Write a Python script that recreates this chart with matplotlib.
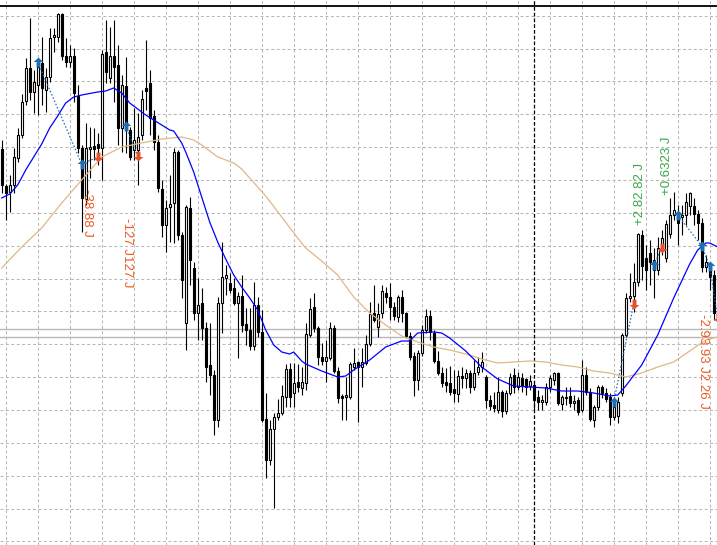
import matplotlib
matplotlib.use("Agg")
import matplotlib.pyplot as plt
import numpy as np
from matplotlib.path import Path

# ---------------- data (price points) ----------------
opens = [396,359,353,360,387,410,444,477,453,460,
         482,455,468,508,508,531,489,483,489,449,
         397,346,396,399,401,397,493,467,489,480,
         417,459,415,395,395,410,457,462,429,403,
         356,320,338,342,393,310,222,337,277,232,
         242,217,180,170,125,242,267,262,257,242,
         249,221,215,199,240,213,126,85,116,128,
         132,148,176,152,163,157,162,210,238,217,
         188,184,187,217,174,149,148,148,178,183,
         178,182,201,232,218,232,252,248,238,228,
         248,232,209,189,165,192,215,229,212,184,
         172,163,162,156,151,169,167,172,158,173,
         178,168,145,140,135,153,134,152,170,158,
         167,166,159,160,148,143,143,158,165,172,
         141,147,149,142,145,135,170,153,125,138,
         158,152,148,128,129,152,210,247,249,263,
         310,287,292,275,275,295,287,311,330,332,
         328,330,339,339,331,322,278,278,270,232]
highs = [405,361,370,397,417,451,487,527,475,487,
         508,477,517,517,532,532,507,500,497,460,
         400,422,418,417,412,495,525,518,525,500,
         470,488,418,437,432,455,505,475,435,410,
         365,345,370,397,395,313,340,348,283,267,
         257,223,222,175,248,303,280,272,267,253,
         270,237,237,263,248,235,152,125,132,146,
         160,181,182,182,181,178,222,247,252,219,
         202,205,223,220,178,151,168,183,197,184,
         197,210,243,260,242,260,258,262,243,250,
         255,233,213,193,195,220,236,235,215,194,
         178,177,179,175,175,178,176,175,185,188,
         193,170,150,153,168,155,155,172,177,173,
         172,167,170,162,155,150,162,170,173,173,
         150,158,158,150,148,185,178,157,140,160,
         160,157,152,143,148,212,252,272,282,312,
         315,300,305,297,308,315,325,347,353,340,
         340,352,353,347,335,327,290,283,275,240]
lows = [352,325,333,352,383,407,440,445,432,430,
        440,433,463,493,503,485,478,478,443,392,
        313,340,367,385,380,365,462,462,443,400,
        393,392,385,385,360,405,435,410,395,353,
        308,293,303,302,305,247,195,260,225,205,
        205,163,150,110,118,212,250,252,240,187,
        213,200,195,195,208,123,67,80,37,125,
        130,138,138,138,153,150,155,208,213,180,
        180,163,185,172,142,125,125,146,175,123,
        158,180,199,223,208,227,242,225,225,223,
        223,207,185,149,155,189,212,205,182,170,
        158,153,150,143,143,157,157,152,155,170,
        173,137,135,133,132,128,131,150,152,155,
        153,150,155,135,135,135,140,153,160,140,
        135,140,138,135,130,133,150,124,118,135,
        147,143,120,125,122,149,208,243,233,259,
        265,255,260,247,270,290,283,307,325,300,
        310,320,330,320,305,273,273,255,225,220]
closes = [360,352,360,388,410,443,477,453,463,478,
          457,468,507,510,531,489,483,489,452,397,
          347,397,398,396,397,491,473,489,478,417,
          460,417,388,405,408,446,454,427,403,357,
          320,337,341,393,310,265,338,285,232,240,
          217,178,170,125,242,268,270,255,242,249,
          220,215,199,240,213,125,85,116,128,132,
          149,176,148,162,158,163,211,236,217,188,
          184,188,217,174,147,147,150,181,182,178,
          183,201,231,225,231,254,248,238,229,248,
          232,209,188,165,192,215,229,213,184,172,
          162,160,153,152,169,167,172,158,172,178,
          183,145,139,137,153,134,152,168,158,168,
          159,158,164,145,143,145,158,167,172,142,
          148,148,142,144,133,170,153,126,138,158,
          152,146,128,138,143,210,247,249,263,311,
          279,275,283,285,297,307,321,330,335,322,
          330,343,352,331,322,278,283,268,232,225]

# moving averages (bar index, value)
ma_fast_idx = [0,2,4,6,8,10,12,14,16,18,20,24,26,28,30,32,36,40,42,43,45,46,48,50,52,54,56,58,60,62,
               64,66,68,70,72,73,75,76,80,84,86,88,92,96,100,102,104,108,110,112,116,120,124,128,132,
               136,140,144,148,152,154,156,160,164,168,172,174,176,177,179]
ma_fast_val = [347,351,360,375,388,401,417,429,442,448,450,453,454,457,452,442,430,420,415,414,402,393,373,348,323,303,286,270,258,247,
               235,215,200,193,191,193,184,181,174,168,169,175,185,198,204,204,212,213,212,207,194,178,166,159,158,
               157,154,154,152,149,150,159,180,210,247,281,295,302,302,298]
ma_slow_idx = [0,5,10,15,20,25,30,35,40,45,48,50,54,58,60,62,66,70,74,76,80,84,88,92,96,100,104,108,112,116,
               120,124,128,132,136,140,144,148,152,156,160,164,168,172,176,179]
ma_slow_val = [277,298,317,342,365,388,398,402,406,408,405,400,388,382,376,367,349,328,307,297,284,270,248,232,220,209,203,198,195,191,
               186,182,183,184,183,180,178,174,172,168,172,178,183,194,205,208]

# trade arrows and connecting lines
buy_idx = [9, 20, 31, 153, 163, 169, 175, 177]
buy_price = [483, 381, 419, 143, 280, 330, 299, 279]
sell_idx = [24, 34, 158, 165, 179]
sell_price = [388, 389, 241, 297, 227]
trade_lines = [((9, 483), (20, 381)), ((20, 381), (24, 388)), ((31, 419), (34, 389)),
               ((153, 143), (158, 241)), ((163, 280), (165, 297)),
               ((169, 330), (175, 299)), ((175, 299), (177, 279)), ((177, 279), (179, 227))]

labels = ["-38.88 J", "-127 J127 J", "+2.82.82 J", "+0.6323 J", "-2.93.93 J2.26 J"]
label_idx = [21.3, 31.3, 159.6, 166.45, 175.3]
label_price = [356, 327, 320, 350, 231]
label_rot = [-90, -90, 90, 90, -90]
label_col = ["#f0581e", "#f0581e", "#3aa845", "#3aa845", "#f0581e"]

hlines_price = [216.5, 207.7]
separator_idx = 133

# ---------------- drawing ----------------
fig = plt.figure(figsize=(7.17, 5.45), dpi=100)
ax = fig.add_axes([0, 0, 1, 1])
ax.set_xlim(-0.425, 178.825)
ax.set_ylim(0, 545)
ax.axis('off')
fig.patch.set_facecolor('white')

grid_col = '#b8b8b8'
for lvl in 529.2 - 32.85 * np.arange(17):
    ax.axhline(lvl, color=grid_col, lw=0.75, ls=(0, (2.8, 2.4)), zorder=0)
for xv in np.arange(1, 180, 8):
    ax.axvline(xv, color=grid_col, lw=0.75, ls=(0, (2.8, 2.4)), zorder=0)

for hp in hlines_price:
    ax.axhline(hp, color='#b8b8b8', lw=1.0, zorder=0.5)
ax.axvline(separator_idx, color='black', lw=0.9, ls=(0, (3, 1.6)), zorder=0.6)
ax.axhline(539, color='black', lw=1.3, zorder=5)

x = np.arange(len(opens))
o = np.array(opens, float); c = np.array(closes, float)
h = np.array(highs, float); l = np.array(lows, float)
ax.vlines(x, l, h, color='black', lw=0.8, zorder=2)
bull = c >= o
bottoms = np.minimum(o, c)
heights = np.maximum(np.abs(c - o), 0.6)
ax.bar(x[bull], heights[bull], bottom=bottoms[bull], width=0.5, color='white',
       edgecolor='black', linewidth=0.8, zorder=3)
ax.bar(x[~bull], heights[~bull], bottom=bottoms[~bull], width=0.5, color='black',
       edgecolor='black', linewidth=0.8, zorder=3)

ax.plot(ma_slow_idx, ma_slow_val, color='#deb887', lw=0.9, zorder=4)
ax.plot(ma_fast_idx, ma_fast_val, color='#0000ff', lw=0.9, zorder=4)

trade_col = '#1e6eb4'
for (a, b) in trade_lines:
    ax.plot([a[0], b[0]], [a[1], b[1]], color=trade_col, lw=0.9, ls=(0, (1.2, 1.6)), zorder=5)

up_arrow = Path([(-1, 0.1), (0, 1), (1, 0.1), (0.4, 0.1), (0.4, -1), (-0.4, -1), (-0.4, 0.1), (-1, 0.1)],
                [Path.MOVETO] + [Path.LINETO] * 6 + [Path.CLOSEPOLY])
down_arrow = Path([(-1, -0.1), (0, -1), (1, -0.1), (0.4, -0.1), (0.4, 1), (-0.4, 1), (-0.4, -0.1), (-1, -0.1)],
                  [Path.MOVETO] + [Path.LINETO] * 6 + [Path.CLOSEPOLY])
ax.plot(buy_idx, buy_price, ls='none', marker=up_arrow, ms=7, color='#1e6eb4',
        markeredgewidth=0, zorder=6)
ax.plot(sell_idx, sell_price, ls='none', marker=down_arrow, ms=7, color='#e8502a',
        markeredgewidth=0, zorder=6)

for txt, xi, yi, rot, col in zip(labels, label_idx, label_price, label_rot, label_col):
    va = 'top' if rot < 0 else 'bottom'
    ax.text(xi, yi, txt, rotation=rot, color=col, fontsize=9.5, ha='center', va=va,
            family=['Liberation Sans', 'DejaVu Sans'], zorder=7)

fig.savefig('out.png', dpi=100, facecolor='white')
